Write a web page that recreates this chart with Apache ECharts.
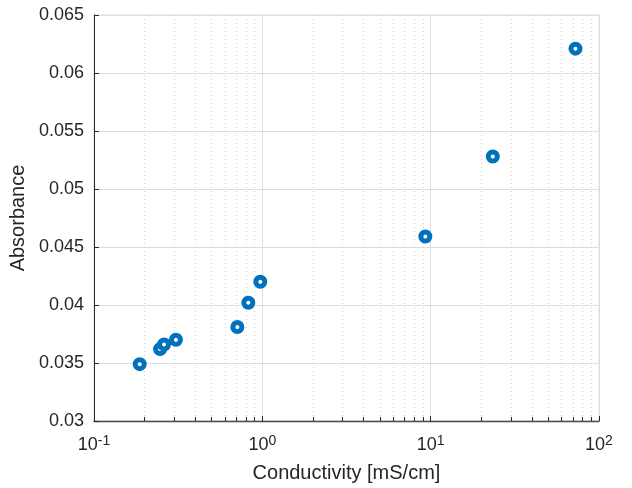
<!DOCTYPE html>
<html>
<head>
    <meta charset="utf-8" />
    <script src="https://cdn.jsdelivr.net/npm/echarts@6/dist/echarts.min.js"></script>
    <title></title>
</head>
<body style="margin:0">
    <div id="main" style="width: 632px;height:488px;"></div>
</body>
</html>
<script>
    // values
    var conductivity = [0.187, 0.247, 0.261, 0.307, 0.711, 0.826, 0.973, 9.3, 23.4, 72.5];
    var absorbance = [0.0349, 0.0362, 0.0366, 0.0370, 0.0381, 0.0402, 0.0420, 0.0459, 0.0528, 0.0621];
    var yTicks = [0.03, 0.035, 0.04, 0.045, 0.05, 0.055, 0.06, 0.065];

    var points = [];
    for (var i = 0; i < conductivity.length; i++) {
        points.push([conductivity[i], absorbance[i]]);
    }

    var chart = echarts.init(document.getElementById('main'));
    var font = 'Liberation Sans, Arial, Helvetica, sans-serif';
    var option = {
        animation: false,
        grid: {
            left: 92, right: 33, top: 15, bottom: 66,
            show: true, borderColor: '#dedede', borderWidth: 1
        },
        xAxis: {
            type: 'log',
            logBase: 10,
            min: 0.1,
            max: 100,
            name: 'Conductivity [mS/cm]',
            nameLocation: 'middle',
            nameGap: 42,
            nameTextStyle: { fontFamily: font, fontSize: 20, color: '#262626' },
            axisLine: { onZero: false, lineStyle: { color: '#4a4a4a', width: 1.3 } },
            axisTick: { inside: true, length: 5, lineStyle: { color: '#262626' } },
            minorTick: { show: true, splitNumber: 9, length: 4, lineStyle: { color: '#262626' } },
            splitLine: { show: true, lineStyle: { color: '#dedede', width: 1 } },
            minorSplitLine: { show: true, lineStyle: { color: '#cfcfcf', type: [1, 3], width: 1 } },
            axisLabel: {
                margin: 13,
                fontFamily: font,
                fontSize: 18,
                color: '#262626',
                formatter: function (v) {
                    var e = Math.round(Math.log10(v));
                    return '10{sup|' + e + '}';
                },
                rich: {
                    sup: { fontFamily: font, fontSize: 14, color: '#262626', verticalAlign: 'top', padding: [0, 0, 8, 0] }
                }
            }
        },
        yAxis: {
            type: 'value',
            min: 0.03,
            max: 0.065,
            interval: 0.005,
            name: 'Absorbance',
            nameLocation: 'middle',
            nameGap: 64,
            nameTextStyle: { fontFamily: font, fontSize: 20, color: '#262626' },
            axisLine: { show: true, lineStyle: { color: '#262626', width: 1 } },
            axisTick: { show: true, inside: true, length: 5, lineStyle: { color: '#262626' } },
            splitLine: { show: true, lineStyle: { color: '#dedede', width: 1 } },
            axisLabel: {
                margin: 10,
                fontFamily: font,
                fontSize: 18,
                color: '#262626',
                formatter: function (v) {
                    for (var k = 0; k < yTicks.length; k++) {
                        if (Math.abs(yTicks[k] - v) < 1e-9) return String(yTicks[k]);
                    }
                    return String(+v.toFixed(4));
                }
            }
        },
        series: [
            {
                type: 'scatter',
                data: points,
                symbol: 'circle',
                symbolSize: 9,
                itemStyle: { color: '#ffffff', borderColor: '#0072BD', borderWidth: 5, opacity: 1 }
            }
        ]
    };
    chart.setOption(option);
</script>
